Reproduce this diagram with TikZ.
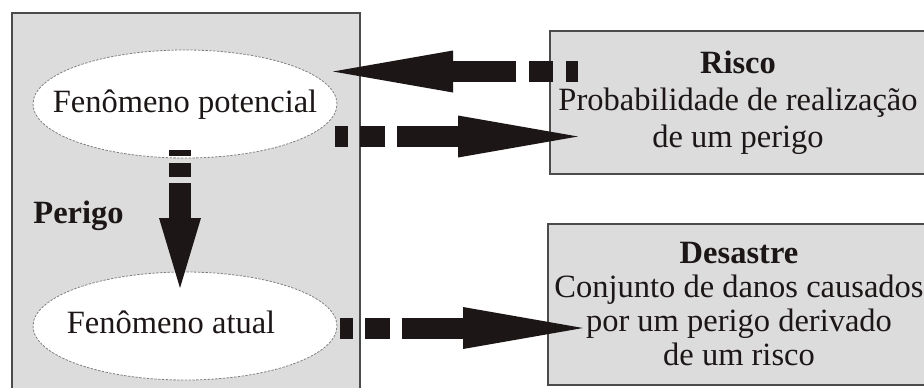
\documentclass[tikz,border=0pt]{standalone}
\usepackage{fontspec}
\setmainfont{Liberation Serif}
\usetikzlibrary{arrows.meta}
\usetikzlibrary{shapes.geometric}
\definecolor{boxgray}{RGB}{220,220,220}
\definecolor{edgegray}{RGB}{75,75,75}
\definecolor{inkblack}{RGB}{28,22,22}
\tikzset{box style/.style={rectangle,draw=edgegray,line width=0.8pt,fill=boxgray,inner sep=0pt}}
\tikzset{phen style/.style={ellipse,draw=gray,fill=white,line width=0.4pt,dash pattern=on 1.2pt off 0.7pt,minimum width=152pt,minimum height=54pt,inner sep=0pt}}
\tikzset{fat arrow/.style={draw=inkblack,line width=10.5pt,-{Triangle[length=60pt,width=21pt,line width=0pt]},dash pattern=on 6.25pt off 6.25pt on 12.25pt off 6.25pt on 300pt}}

\begin{document}
\begin{tikzpicture}[x=0.5pt,y=-0.5pt,font=\fontsize{16.25}{18.5}\selectfont,text=inkblack]
   % canvas in pixels of the original figure, y downwards
   \fill[white] (0,0) rectangle (924,387);
   \useasboundingbox (0,0) rectangle (924,387);
   \clip (0,0) rectangle (924,387);

   % boxes
   \node (hazard) [box style, minimum width=174pt, minimum height=193.5pt] at (186,206.5) {};
   \node (risk) [box style, minimum width=188pt, minimum height=71.5pt, align=center] at (738,102.5)
      {\textbf{Risco}\\Probabilidade de realização\\de um perigo};
   \node (disaster) [box style, minimum width=191pt, minimum height=80.5pt, align=center,
      font=\fontsize{16.25}{17}\selectfont] at (739,304.5)
      {\textbf{Desastre}\\Conjunto de danos causados\\por um perigo derivado\\de um risco};

   % the two phenomena
   \node (pot) [phen style] at (185,104) {};
   \node (act) [phen style] at (185,326) {};
   \node (pottext) [anchor=base] at (185,112) {Fenômeno potencial};
   \node (acttext) [anchor=base] at (171,333) {Fenômeno atual};
   \node (hazlabel) [anchor=base west, inner sep=0pt] at (33,223) {\textbf{Perigo}};

   % arrow ends
   \coordinate (riskout) at (578,71.5);
   \coordinate (potin) at (333,71.5);
   \coordinate (potout) at (335,136.5);
   \coordinate (riskin) at (578,136.5);
   \coordinate (actout) at (340,328);
   \coordinate (disin) at (583,328);
   \coordinate (potdown) at (180,150);
   \coordinate (actin) at (180,288);

   \draw [fat arrow] (riskout) -- (potin);
   \draw [fat arrow] (potout) -- (riskin);
   \draw [fat arrow] (actout) -- (disin);
   \draw [fat arrow, line width=11pt, -{Triangle[length=35pt,width=21pt,line width=0pt]},
      dash pattern=on 3pt off 3.5pt on 7pt off 3pt on 300pt] (potdown) -- (actin);
\end{tikzpicture}
\end{document}
